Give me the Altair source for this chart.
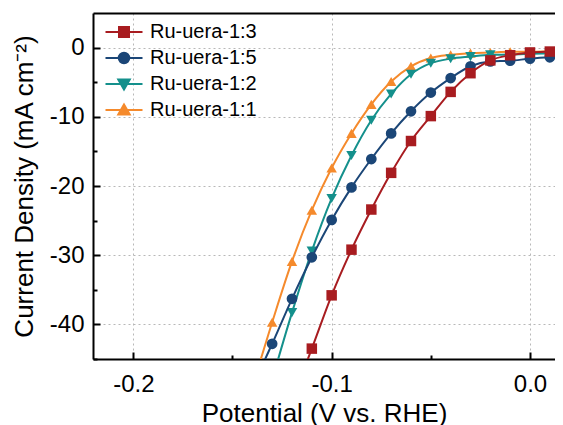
import altair as alt
import pandas as pd

# ---- data ----
series = ["Ru-uera-1:3", "Ru-uera-1:5", "Ru-uera-1:2", "Ru-uera-1:1"]
colors = ["#A81C20", "#1B4677", "#14908C", "#F58A2C"]
shapes = ["square", "circle", "triangle-down", "triangle-up"]

potential_13 = [-0.12, -0.11, -0.10, -0.09, -0.08, -0.07, -0.06, -0.05, -0.04, -0.03, -0.02, -0.01, 0.00, 0.01, 0.02]
current_13 = [-51.0, -43.5, -35.8, -29.2, -23.4, -18.1, -13.5, -9.9, -6.4, -3.7, -1.85, -1.1, -0.7, -0.57, -0.5]

potential_15 = [-0.14, -0.13, -0.12, -0.11, -0.10, -0.09, -0.08, -0.07, -0.06, -0.05, -0.04, -0.03, -0.02, -0.01, 0.00, 0.01, 0.02]
current_15 = [-49.0, -42.8, -36.3, -30.3, -24.9, -20.2, -16.1, -12.4, -9.2, -6.5, -4.4, -2.7, -2.0, -1.9, -1.6, -1.4, -1.3]

potential_12 = [-0.13, -0.12, -0.11, -0.10, -0.09, -0.08, -0.07, -0.06, -0.05, -0.04, -0.03, -0.02, -0.01, 0.00, 0.01, 0.02]
current_12 = [-48.0, -38.3, -29.4, -21.8, -15.6, -10.5, -6.7, -3.85, -2.25, -1.6, -1.3, -1.05, -1.0, -0.9, -0.85, -0.8]

potential_11 = [-0.14, -0.13, -0.12, -0.11, -0.10, -0.09, -0.08, -0.07, -0.06, -0.05, -0.04, -0.03, -0.02, -0.01, 0.00, 0.01, 0.02]
current_11 = [-49.0, -39.7, -30.9, -23.5, -17.4, -12.4, -8.2, -4.9, -2.7, -1.5, -1.05, -0.8, -0.7, -0.6, -0.6, -0.55, -0.5]

x_major = [-0.2, -0.1, 0.0]
x_all_ticks = [-0.2, -0.15, -0.1, -0.05, 0.0]
y_major = [0, -10, -20, -30, -40]
y_all_ticks = [0, -5, -10, -15, -20, -25, -30, -35, -40, -45]

# legend symbols: line segment + marker
legend_paths = [
    "M-3.7,0H3.7M-1,-1H1V1H-1Z",
    "M-3.7,0H3.7M1.05,0A1.05,1.05,0,1,1,-1.05,0A1.05,1.05,0,1,1,1.05,0Z",
    "M-3.7,0H3.7M0,1.1L1.15,-0.9L-1.15,-0.9Z",
    "M-3.7,0H3.7M0,-1.1L1.15,0.9L-1.15,0.9Z",
]

frames = []
for name, xs, ys in zip(series,
                        [potential_13, potential_15, potential_12, potential_11],
                        [current_13, current_15, current_12, current_11]):
    frames.append(pd.DataFrame({"series": name, "potential": xs, "current": ys}))
df = pd.concat(frames, ignore_index=True)

W, H = 462, 346
FONT = "Liberation Sans"
HYPHEN = "replace(datum.label, '\u2212', '-')"
xscale = alt.Scale(domain=[-0.22033, 0.01261], nice=False, zero=False)
yscale = alt.Scale(domain=[-45, 5], nice=False, zero=False)

x_main = alt.Axis(orient="bottom", values=x_major, format=".1f", labelExpr=HYPHEN,
                  title="Potential (V vs. RHE)",
                  ticks=False, tickSize=0, domain=True, domainColor="black", domainWidth=2,
                  grid=True, gridDash=[2, 3], gridColor="#b8b8b8", gridWidth=1,
                  labelFontSize=24, labelPadding=13, labelFont=FONT, labelColor="black",
                  titleFontSize=26, titlePadding=4, titleFont=FONT,
                  titleFontWeight="normal", titleColor="black")
y_main = alt.Axis(orient="left", values=y_major, format="d", labelExpr=HYPHEN,
                  title="Current Density (mA cm⁻²)",
                  ticks=False, tickSize=0, domain=True, domainColor="black", domainWidth=2,
                  grid=True, gridDash=[2, 3], gridColor="#b8b8b8", gridWidth=1,
                  labelFontSize=24, labelPadding=9, labelFont=FONT, labelColor="black",
                  titleFontSize=26, titlePadding=12, titleFont=FONT,
                  titleFontWeight="normal", titleColor="black")
x_ticks = alt.Axis(orient="top", offset=-H, values=x_all_ticks, labels=False,
                   domain=False, grid=False, title=None, tickColor="black", tickWidth=2,
                   tickSize={"condition": {"test": "abs(round(datum.value*100)) % 10 == 0", "value": 7}, "value": 4})
y_ticks = alt.Axis(orient="right", offset=-W, values=y_all_ticks, labels=False,
                   domain=False, grid=False, title=None, tickColor="black", tickWidth=2,
                   tickSize={"condition": {"test": "abs(datum.value) % 10 == 0", "value": 7}, "value": 4})
x_border = alt.Axis(orient="top", offset=0, values=x_major, labels=False, ticks=False,
                    domain=True, domainColor="black", domainWidth=2, grid=False, title=None)

base = alt.Chart(df)
layers = []
for k, i in enumerate([3, 2, 1, 0]):
    name = series[i]
    src = base.transform_filter(alt.datum.series == name)
    if k == 0:
        axes_line = (x_main, y_main)
        axes_pts = (x_ticks, y_ticks)
    elif k == 1:
        axes_line = (x_border, None)
        axes_pts = (None, None)
    else:
        axes_line = (None, None)
        axes_pts = (None, None)
    line = src.mark_line(color=colors[i], strokeWidth=2, interpolate="monotone", clip=True).encode(
        x=alt.X("potential:Q", scale=xscale, axis=axes_line[0]),
        y=alt.Y("current:Q", scale=yscale, axis=axes_line[1]),
    )
    pts = src.mark_point(shape=shapes[i], filled=True, opacity=1,
                         size=110 if shapes[i] != "circle" else 115,
                         color=colors[i], clip=True).encode(
        x=alt.X("potential:Q", scale=xscale, axis=axes_pts[0]),
        y=alt.Y("current:Q", scale=yscale, axis=axes_pts[1]),
    )
    layers += [line, pts]

leg = alt.Legend(title=None, orient="none", legendX=21, legendY=9, padding=0,
                 labelFontSize=20, labelFont=FONT, labelColor="black",
                 symbolSize=100, symbolStrokeWidth=2, labelOffset=16, rowPadding=6,
                 symbolOpacity=1)
legend_layer = base.transform_filter("false").mark_point(filled=True, opacity=1, clip=True).encode(
    x=alt.X("potential:Q", scale=xscale, axis=None),
    y=alt.Y("current:Q", scale=yscale, axis=None),
    fill=alt.Fill("series:N", scale=alt.Scale(domain=series, range=colors), legend=leg),
    stroke=alt.Stroke("series:N", scale=alt.Scale(domain=series, range=colors), legend=leg),
    shape=alt.Shape("series:N", scale=alt.Scale(domain=series, range=legend_paths), legend=leg),
)
layers.append(legend_layer)

chart = alt.layer(*layers).properties(
    width=W, height=H, autosize="none", background="white",
    padding={"left": 85, "top": 5, "right": 0, "bottom": 66},
).configure_view(stroke=None)

chart.save("out.html", embed_options={"renderer": "svg", "actions": False})
